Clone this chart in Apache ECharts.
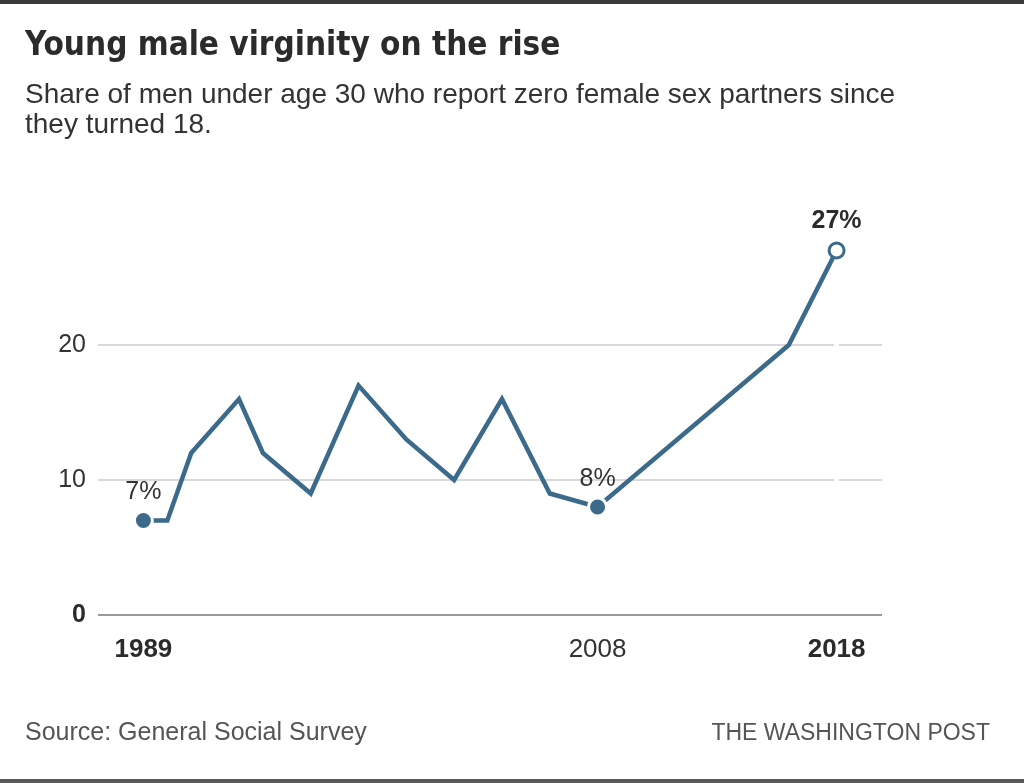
<!DOCTYPE html>
<html>
<head>
<meta charset="utf-8">
<script src="https://cdn.jsdelivr.net/npm/echarts@6/dist/echarts.min.js"></script>
<style>
html,body{margin:0;padding:0;background:#fff;}
#c{width:1024px;height:783px;}
</style>
</head>
<body>
<div id="c"></div>
<script>
var years = [1989, 1990, 1991, 1993, 1994, 1996, 1998, 2000, 2002, 2004, 2006, 2008, 2016, 2018];
var shares = [7, 7, 12, 16, 12, 9, 17, 13, 10, 16, 9, 8, 20, 27];
var highlightYears = [1989, 2008, 2018];
var highlightLabels = ['7%', '8%', '27%'];
var xTickLabels = [1989, 2008, 2018];
var yTicks = [0, 10, 20];

var lineColor = '#3b6a8a';
var lineData = years.map(function (y, i) { return [y, shares[i]]; });
var pointData = highlightYears.map(function (y, i) {
  var v = shares[years.indexOf(y)];
  var last = i === highlightYears.length - 1;
  return {
    value: [y, v],
    itemStyle: last ? { color: '#fff', borderColor: lineColor, borderWidth: 3, opacity: 1 }
                    : { color: lineColor, borderColor: '#fff', borderWidth: 3, opacity: 1 },
    symbolSize: last ? 15 : 18,
    label: {
      formatter: highlightLabels[i],
      fontWeight: last ? 'bold' : 'normal',
      color: last ? '#2b2b2b' : '#333',
      distance: last ? 8 : 5
    }
  };
});

var chart = echarts.init(document.getElementById('c'), null, { renderer: 'canvas' });
chart.setOption({
  backgroundColor: '#fff',
  animation: false,
  title: [
    { text: 'Young male virginity on the rise', left: 20, top: 25,
      textStyle: { fontFamily: 'Liberation Sans Narrow, DejaVu Sans Condensed, sans-serif', fontWeight: 'bold', fontSize: 33, color: '#2b2b2b' } },
    { text: 'Share of men under age 30 who report zero female sex partners since\nthey turned 18.', left: 20, top: 75,
      textStyle: { fontFamily: 'Liberation Sans, Arial, sans-serif', fontWeight: 'normal', fontSize: 28, lineHeight: 30, color: '#333' } },
    { text: 'Source: General Social Survey', left: 20, top: 716,
      textStyle: { fontFamily: 'Liberation Sans, Arial, sans-serif', fontWeight: 'normal', fontSize: 25, color: '#555' } },
    { text: 'THE WASHINGTON POST', right: 29, top: 717,
      textStyle: { fontFamily: 'Liberation Sans, Arial, sans-serif', fontWeight: 'normal', fontSize: 23, color: '#555' } }
  ],
  graphic: [
    { type: 'rect', shape: { x: 0, y: 0, width: 1024, height: 4 }, style: { fill: '#3a3a3a' } },
    { type: 'rect', shape: { x: 0, y: 779, width: 1024, height: 4 }, style: { fill: '#5a5a5a' } }
  ],
  grid: { left: 98, right: 142, top: 237, bottom: 168 },
  xAxis: {
    type: 'value', min: 1987.1, max: 2019.9,
    axisLine: { show: false }, axisTick: { show: false }, splitLine: { show: false },
    axisLabel: {
      customValues: xTickLabels,
      margin: 22,
      fontFamily: 'Liberation Sans, Arial, sans-serif',
      fontSize: 26, color: '#333',
      formatter: function (v) { return (v === 1989 || v === 2018) ? '{b|' + v + '}' : String(v); },
      rich: { b: { fontWeight: 'bold', fontSize: 26, color: '#2b2b2b', fontFamily: 'Liberation Sans, Arial, sans-serif' } }
    }
  },
  yAxis: {
    type: 'value', min: 0, max: 28, interval: 10,
    axisLine: { show: false }, axisTick: { show: false },
    splitLine: {
      show: true,
      lineStyle: { color: ['#9a9a9a', '#d9d9d9', '#d9d9d9', 'rgba(0,0,0,0)'], width: 2 }
    },
    axisLabel: {
      customValues: yTicks,
      margin: 12,
      fontFamily: 'Liberation Sans, Arial, sans-serif',
      fontSize: 25, color: '#333',
      formatter: function (v) { return v === 0 ? '{b|0}' : String(v); },
      rich: { b: { fontWeight: 'bold', fontSize: 25, color: '#2b2b2b', fontFamily: 'Liberation Sans, Arial, sans-serif' } }
    }
  },
  series: [
    {
      type: 'line', data: lineData, symbol: 'none', z: 2,
      lineStyle: { color: lineColor, width: 4.5, join: 'miter' }
    },
    {
      type: 'scatter', data: pointData, symbol: 'circle', z: 3,
      label: { show: true, position: 'top', fontFamily: 'Liberation Sans, Arial, sans-serif', fontSize: 25, color: '#333' },
      markLine: {
        silent: true, symbol: 'none', z: 1,
        label: { show: false },
        lineStyle: { color: '#fff', width: 5, type: 'solid', opacity: 1 },
        data: [[{ coord: [2018, 5] }, { coord: [2018, 24] }]]
      }
    }
  ]
});
</script>
</body>
</html>
